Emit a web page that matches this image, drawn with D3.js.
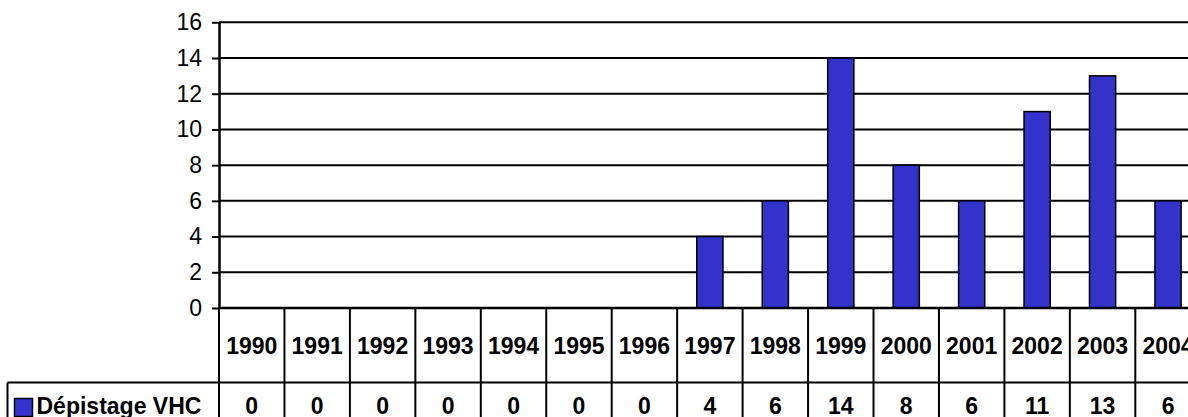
<!DOCTYPE html>
<html>
<head>
<meta charset="utf-8">
<script src="https://cdn.jsdelivr.net/npm/d3@7"></script>
<style>
  html, body { margin: 0; padding: 0; background: #fff; }
  svg { display: block; }
  text { font-family: "Liberation Sans", Arial, sans-serif; fill: #000; }
</style>
</head>
<body>
<script>
const years = ["1990","1991","1992","1993","1994","1995","1996","1997","1998","1999","2000","2001","2002","2003","2004"];
const values = [0,0,0,0,0,0,0,4,6,14,8,6,11,13,6];
const seriesName = "Dépistage VHC";
const yTicks = [0,2,4,6,8,10,12,14,16];

const W = 1188, H = 417;
const plotLeft = 219, step = 65.45;
const plotRight = plotLeft + step * years.length;
const yTop = 22.3, yBottom = 308;
const row1Bottom = 382.5;
const legendLeft = 7.5;
const barColor = "#3333CC";

const svg = d3.select("body").append("svg").attr("width", W).attr("height", H);

const x = d3.scaleBand().domain(years).range([plotLeft, plotRight]).paddingInner(0.6).paddingOuter(0.3);
const xCol = d3.scaleBand().domain(years).range([plotLeft, plotRight]).padding(0);
const y = d3.scaleLinear().domain([0, 16]).range([yBottom, yTop]);

// gridlines
svg.append("g").selectAll("line").data(yTicks.filter(d => d > 0)).join("line")
  .attr("x1", plotLeft).attr("x2", W + 20)
  .attr("y1", d => y(d)).attr("y2", d => y(d))
  .attr("stroke", "#000").attr("stroke-width", 2);

// y axis
const yAxis = d3.axisLeft(y).tickValues(yTicks).tickSize(7).tickPadding(10).tickSizeOuter(0);
const gy = svg.append("g").attr("transform", `translate(${plotLeft},0)`).call(yAxis);
gy.select(".domain").attr("stroke", "#000").attr("stroke-width", 2.5);
gy.selectAll(".tick line").attr("stroke", "#000").attr("stroke-width", 2);
gy.selectAll(".tick text").attr("font-size", 23).attr("font-family", "Liberation Sans, Arial, sans-serif").attr("fill", "#000");

// bars
svg.append("g").selectAll("rect").data(years.map((yr, i) => ({yr, v: values[i]})).filter(d => d.v > 0)).join("rect")
  .attr("x", d => x(d.yr)).attr("width", x.bandwidth())
  .attr("y", d => y(d.v)).attr("height", d => y(0) - y(d.v))
  .attr("fill", barColor).attr("stroke", "#000").attr("stroke-width", 1.5);

// baseline (x axis / table top)
svg.append("line").attr("x1", plotLeft).attr("x2", W + 20).attr("y1", yBottom).attr("y2", yBottom)
  .attr("stroke", "#000").attr("stroke-width", 2.5);

// table vertical lines
const bounds = years.map(d => xCol(d)).concat([plotRight]);
svg.append("g").selectAll("line").data(bounds).join("line")
  .attr("x1", d => d).attr("x2", d => d)
  .attr("y1", yBottom).attr("y2", H + 10)
  .attr("stroke", "#000").attr("stroke-width", 2);

// row separator
svg.append("line").attr("x1", legendLeft).attr("x2", W + 20).attr("y1", row1Bottom).attr("y2", row1Bottom)
  .attr("stroke", "#000").attr("stroke-width", 2);
// legend cell left border
svg.append("line").attr("x1", legendLeft).attr("x2", legendLeft).attr("y1", row1Bottom).attr("y2", H + 10)
  .attr("stroke", "#000").attr("stroke-width", 2);

// year labels
svg.append("g").selectAll("text").data(years).join("text")
  .attr("x", d => xCol(d) + xCol.bandwidth() / 2).attr("y", 354)
  .attr("text-anchor", "middle").attr("font-size", 23).attr("font-weight", "bold")
  .text(d => d);

// values row
svg.append("g").selectAll("text").data(years.map((yr, i) => ({yr, v: values[i]}))).join("text")
  .attr("x", d => xCol(d.yr) + xCol.bandwidth() / 2).attr("y", 414)
  .attr("text-anchor", "middle").attr("font-size", 23).attr("font-weight", "bold")
  .text(d => d.v);

// legend
svg.append("rect").attr("x", 14.5).attr("y", 398.5).attr("width", 18).attr("height", 18)
  .attr("fill", barColor).attr("stroke", "#000").attr("stroke-width", 1.5);
svg.append("text").attr("x", 36.5).attr("y", 414).attr("font-size", 23).attr("font-weight", "bold")
  .text(seriesName);
</script>
</body>
</html>
